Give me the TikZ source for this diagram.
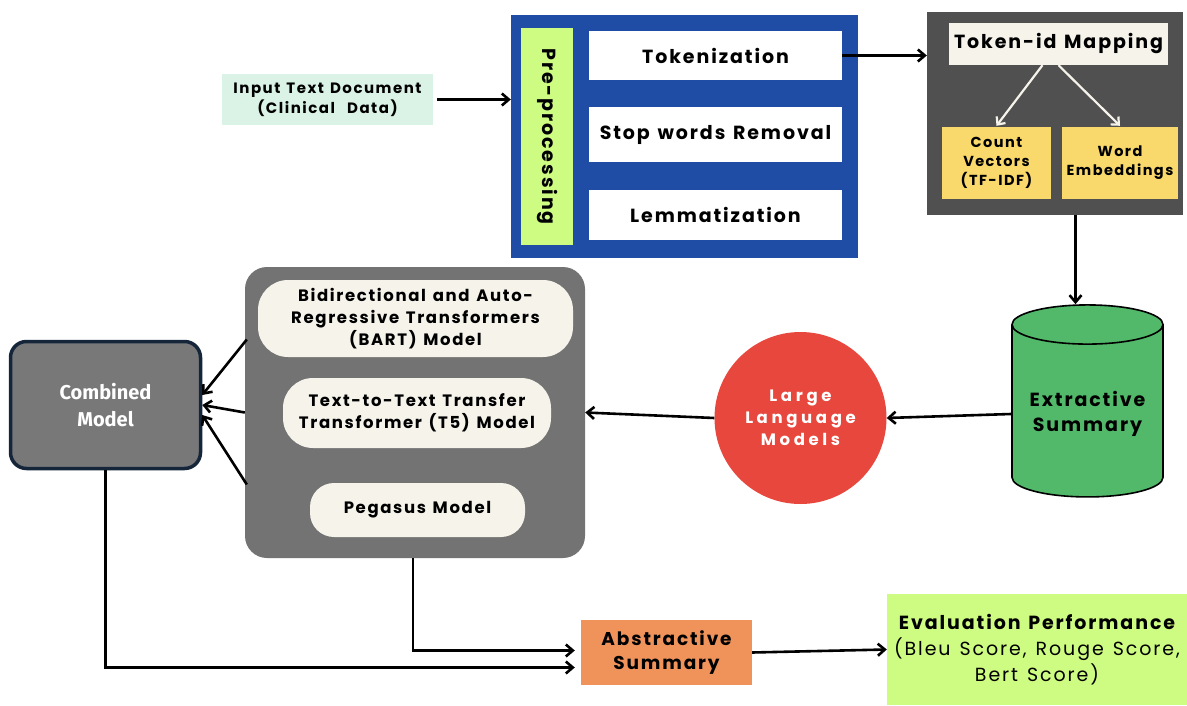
\documentclass[tikz,border=0pt]{standalone}
\usepackage{fontspec}
\setmainfont{Poppins}[LetterSpace=10, WordSpace=1.3]
\newfontfamily\combfont{Fira Sans}
\usepackage{xcolor}
\usetikzlibrary{shapes,arrows,positioning,calc,arrows.meta}

\definecolor{prepblue}{HTML}{1F4DA6}
\definecolor{limegreen}{HTML}{CEFB82}
\definecolor{mintbg}{HTML}{DAF3E6}
\definecolor{darkpanel}{HTML}{505050}
\definecolor{midpanel}{HTML}{737373}
\definecolor{creamfill}{HTML}{F5F3EA}
\definecolor{yellowfill}{HTML}{F9D96B}
\definecolor{cylgreen}{HTML}{52B96A}
\definecolor{llmred}{HTML}{E8473D}
\definecolor{orangefill}{HTML}{F0935A}
\definecolor{combgray}{HTML}{787878}
\definecolor{navyedge}{HTML}{15263A}

\tikzset{
    px/.style={x=1pt, y=-1pt},
    txt/.style={font=\bfseries\fontsize{#1}{\fpeval{#1*1.32}}\selectfont, align=center},
    stepbox/.style={rectangle, fill=white, minimum width=253pt, inner sep=0pt, txt=19},
    pill/.style={rectangle, rounded corners=30pt, fill=creamfill, inner sep=0pt, txt=16.5},
    flow/.style={-{Straight Barb[length=7pt,width=12pt]}, line width=2.6pt},
    whiteflow/.style={-{Straight Barb[length=6pt,width=11pt]}, line width=2.2pt, draw=creamfill}
}

\begin{document}
\begin{tikzpicture}[px]
    \useasboundingbox (0,0) rectangle (1187,706);
    \fill[white] (0,0) rectangle (1187,706);

    % Input document
    \node[rectangle, fill=mintbg, minimum width=211pt, minimum height=51pt, inner sep=0pt, txt=15]
        (input) at (327.5,99.5) {Input Text Document\\(Clinical~~Data)};

    % Pre-processing block
    \node[rectangle, fill=prepblue, minimum width=347pt, minimum height=243pt] (prep) at (684.5,136.5) {};
    \node[rectangle, fill=limegreen, minimum width=52pt, minimum height=217pt, inner sep=0pt] (prelabel) at (547,136.5) {};
    \node[txt=19, rotate=-90] at (prelabel.center) {Pre-processing};
    \node[stepbox, minimum height=49pt] (token) at (715.5,55.5) {Tokenization};
    \node[stepbox, minimum height=55pt] (stop) at (715.5,134.5) {Stop words Removal};
    \node[stepbox, minimum height=50pt] (lemma) at (715.5,215) {Lemmatization};

    % Token-id mapping block
    \node[rectangle, fill=darkpanel, minimum width=256pt, minimum height=203pt] (mapbox) at (1055,113.5) {};
    \node[rectangle, fill=creamfill, minimum width=219pt, minimum height=42pt, inner sep=0pt, txt=19]
        (mapping) at (1058.5,44) {Token-id Mapping};
    \node[rectangle, fill=yellowfill, minimum width=109pt, minimum height=72pt, inner sep=0pt, txt=14.5]
        (count) at (996.5,163) {Count\\Vectors\\(TF-IDF)};
    \node[rectangle, fill=yellowfill, minimum width=116pt, minimum height=72pt, inner sep=0pt, txt=14.5]
        (embed) at (1120,163) {Word\\Embeddings};

    % Extractive summary
    \node[cylinder, shape border rotate=90, aspect=0.32, draw=black, line width=1.6pt, fill=cylgreen,
        minimum width=151pt, minimum height=192pt, txt=19] (extr) at (1087.5,414) {Extractive\\Summary};

    % LLM
    \node[circle, fill=llmred, minimum size=172pt, inner sep=0pt, text=white, align=center,
        font=\bfseries\fontsize{16.5}{22}\selectfont\addfontfeature{LetterSpace=22}]
        (llm) at (800.5,418) {Large\\Language\\Models};

    % Transformer models
    \node[rectangle, rounded corners=22pt, fill=midpanel, minimum width=340pt, minimum height=291pt] (models) at (415,412.5) {};
    \node[pill, minimum width=315pt, minimum height=77pt] (bart) at (415.5,318.5)
        {Bidirectional and Auto-\\Regressive Transformers\\(BART) Model};
    \node[pill, minimum width=268pt, minimum height=70pt] (tfive) at (417,413)
        {Text-to-Text Transfer\\Transformer (T5) Model};
    \node[pill, minimum width=215pt, minimum height=54pt, rounded corners=24pt] (pegasus) at (417.5,510) {Pegasus Model};

    % Combined model
    \node[rectangle, rounded corners=16pt, fill=combgray, draw=navyedge, line width=3.5pt,
        minimum width=190pt, minimum height=127pt, text=white, align=center,
        font=\combfont\bfseries\fontsize{20}{27}\selectfont] (combined) at (105.5,405) {Combined\\Model};

    % Abstractive summary and evaluation
    \node[rectangle, fill=orangefill, minimum width=171pt, minimum height=65pt, inner sep=0pt, txt=18.5]
        (abstr) at (666.5,652.5) {Abstractive\\Summary};
    \node[rectangle, fill=limegreen, minimum width=300pt, minimum height=111pt, inner sep=0pt, align=center,
        font=\fontsize{19}{26}\selectfont] (evalp) at (1037,649.5)
        {{\bfseries Evaluation Performance}\\(Bleu Score, Rouge Score,\\Bert Score)};

    % Connectors
    \draw[flow] (input.east) ++(4,0) -- (input.east -| prep.west);
    \draw[flow] (token.east) -- (token.east -| mapbox.west);
    \draw[whiteflow] ($(mapping.south)+(-16,0)$) -- ($(count.north)+(0,-1)$);
    \draw[whiteflow] ($(mapping.south)+(0,0)$) -- ($(embed.north)+(0,-1)$);
    \coordinate (extrin) at ($(extr.top)+(-12,0)$);
    \draw[flow] (mapbox.south -| extrin) -- (extrin);
    \draw[flow] (extr.west) -- (llm.east);
    \draw[flow] (llm.west) -- (models.east);
    \draw[flow] ($(models.west)+(2,-73)$) -- ($(combined.east)+(0,-10)$);
    \draw[flow] (models.west) -- (combined.east);
    \draw[flow] ($(models.west)+(2,72)$) -- ($(combined.east)+(0,10)$);
    \coordinate (abin1) at ($(abstr.west)+(-6,-2)$);
    \coordinate (abin2) at ($(abstr.west)+(-6,15)$);
    \draw[flow] (models.south -| 413,0) |- (abin1);
    \draw[flow] (combined.south) |- (abin2);
    \draw[flow] (abstr.east) -- (evalp.west);
\end{tikzpicture}
\end{document}
